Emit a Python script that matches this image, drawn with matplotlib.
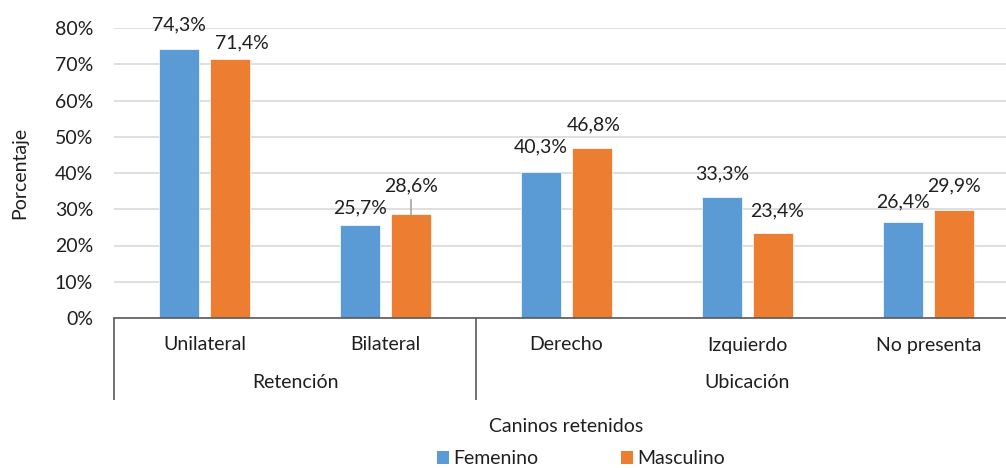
import numpy as np
import matplotlib
matplotlib.use("Agg")
from matplotlib import pyplot as plt
from matplotlib.patches import Patch
import matplotlib.transforms as mtransforms

plt.rcParams['font.family'] = ['Lato', 'DejaVu Sans']

categorias = ["Unilateral", "Bilateral", "Derecho", "Izquierdo", "No presenta"]
grupos = ["Retención", "Ubicación"]
grupo_tam = [2, 3]
femenino = [74.3, 25.7, 40.3, 33.3, 26.4]
masculino = [71.4, 28.6, 46.8, 23.4, 29.9]
yticks = [0, 10, 20, 30, 40, 50, 60, 70, 80]

# label placement (pixels): lift above bar top, sideways shift
lift_f = [24, 17, 25, 23, 20]
lift_m = [16, 28, 23, 22, 24]
shift_m = [12, 0, 2, 4, 0]

azul = "#5B9BD5"
naranja = "#ED7D31"
texto = "#1f1f1f"
eje = "#595959"
fs = 14

W, H = 1006, 468
fig = plt.figure(figsize=(W/100, H/100), dpi=100)
ax = fig.add_axes([114/W, 150/H, 905/W, 290/H])

x = np.arange(len(categorias))
bw = 0.224
off = 0.141
ax.bar(x-off, femenino, bw, color=azul, edgecolor="white", linewidth=0.5, label="Femenino", zorder=3)
ax.bar(x+off, masculino, bw, color=naranja, edgecolor="white", linewidth=0.5, label="Masculino", zorder=3)

ax.set_xlim(-0.5, len(categorias)-0.5)
ax.set_ylim(0, 80)
ax.set_yticks(yticks)
ax.set_yticklabels(["%d%%" % v for v in yticks], fontsize=fs, color=texto)
ax.yaxis.grid(True, color="#d9d9d9", linewidth=1.2, zorder=0)
ax.tick_params(axis="y", length=0, pad=15)
ax.tick_params(axis="x", length=0)
ax.set_xticks([])
for s in ["top", "right", "left"]:
    ax.spines[s].set_visible(False)
ax.spines["bottom"].set_color(eje)
ax.spines["bottom"].set_linewidth(1.2)
ax.spines["bottom"].set_zorder(4)

px = 72/100.0  # points per pixel
def etiqueta(xc, v, lift, dx=0, leader=False):
    ax.annotate(("%.1f%%" % v).replace(".", ","), (xc, v),
                xytext=(dx*px, lift*px), textcoords="offset points",
                ha="center", va="center", fontsize=fs, color=texto)
    if leader:
        ax.annotate("", (xc, v), xytext=(0, (lift-13)*px), textcoords="offset points",
                    arrowprops=dict(arrowstyle="-", color="#a6a6a6", lw=1.2,
                                    shrinkA=0, shrinkB=0))

for i in range(len(categorias)):
    etiqueta(x[i]-off, femenino[i], lift_f[i])
    etiqueta(x[i]+off, masculino[i], lift_m[i], shift_m[i], leader=(i == 1))

# multi-level category axis
trans = mtransforms.blended_transform_factory(ax.transData, ax.transAxes)
for i, c in enumerate(categorias):
    ax.text(x[i], -27/290, c, transform=trans, ha="center", va="center",
            fontsize=fs, color=texto)
inicio = 0
bordes = [-0.5]
for g, n in zip(grupos, grupo_tam):
    centro = inicio + (n-1)/2.0
    ax.text(centro, -65/290, g, transform=trans, ha="center", va="center",
            fontsize=fs, color=texto)
    inicio += n
    bordes.append(inicio-0.5)
for b in bordes[:-1]:
    ax.plot([b, b], [0, -82/290], transform=trans, color=eje, lw=1.2,
            clip_on=False, solid_capstyle="butt")

fig.text(566/W, 1-427/H, "Caninos retenidos", ha="center", va="center",
         fontsize=fs, color=texto)
fig.text(20/W, 1-173/H, "Porcentaje", rotation=90, ha="center", va="center",
         fontsize=fs, color=texto)

handles = [Patch(facecolor=azul), Patch(facecolor=naranja)]
fig.legend(handles, ["Femenino", "Masculino"], loc="center",
           bbox_to_anchor=(581/W, 1-459/H), ncol=2, frameon=False,
           fontsize=fs, handlelength=0.6, handleheight=0.6, handletextpad=0.2,
           columnspacing=4.3, labelcolor=texto, borderpad=0)

fig.savefig("out.png", dpi=100)
